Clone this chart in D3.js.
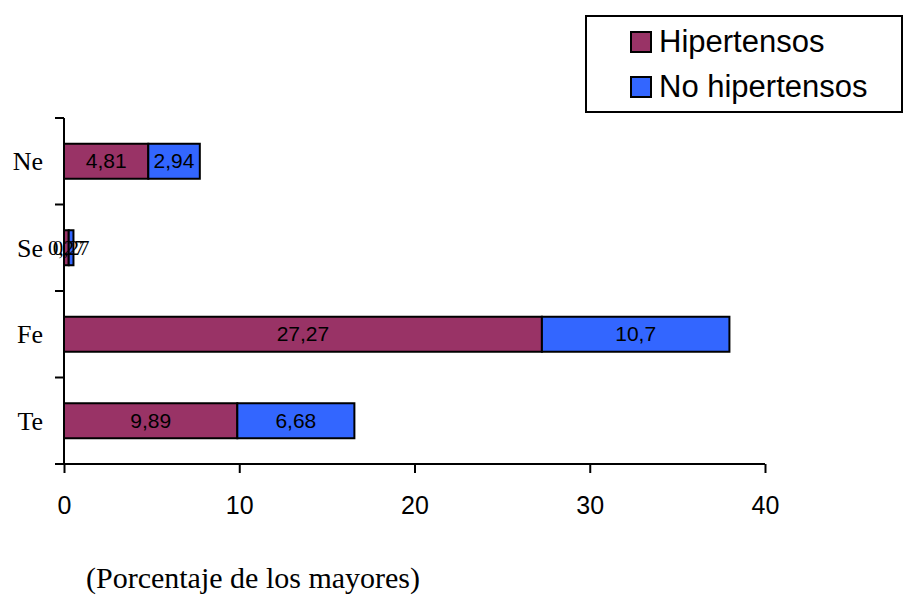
<!DOCTYPE html>
<html>
<head>
<meta charset="utf-8">
<script src="https://cdn.jsdelivr.net/npm/d3@7"></script>
<style>
  html, body { margin: 0; padding: 0; background: #fff; }
  svg { display: block; }
</style>
</head>
<body>
<svg id="chart" width="904" height="599"></svg>
<script>
// Categories in drawing order: Ne at top, Te at bottom
const categories = ["Ne", "Se", "Fe", "Te"];
const hipertensos = [4.81, 0.27, 27.27, 9.89];
const noHipertensos = [2.94, 0.27, 10.7, 6.68];
const seriesNames = ["Hipertensos", "No hipertensos"];
const seriesColors = ["#993366", "#3366FF"];
const xTicks = [0, 10, 20, 30, 40];
const xTitle = "(Porcentaje de los mayores)";

const SANS = "'Liberation Sans', Arial, sans-serif";
const SERIF = "'Liberation Serif', 'Times New Roman', serif";

const svg = d3.select("#chart");
const plotLeft = 64, plotRight = 765, plotTop = 118, plotBottom = 464;
const barH = 35;

const x = d3.scaleLinear().domain([0, 40]).range([plotLeft, plotRight]);
const yBand = d3.scaleBand().domain(categories).range([plotTop, plotBottom]);
const yMid = c => yBand(c) + yBand.bandwidth() / 2;

// stacked segments
const rows = categories.map((c, i) => ({ cat: c, vals: [hipertensos[i], noHipertensos[i]] }));
rows.forEach(r => {
  let acc = 0;
  r.vals.forEach((v, s) => {
    const x0 = acc, x1 = acc + v;
    acc = x1;
    svg.append("rect")
      .attr("x", x(x0)).attr("y", yMid(r.cat) - barH / 2)
      .attr("width", x(x1) - x(x0)).attr("height", barH)
      .attr("fill", seriesColors[s])
      .attr("stroke", "#000").attr("stroke-width", 2);
  });
});

// y axis line, ticks at band edges, category labels
svg.append("line").attr("x1", plotLeft).attr("x2", plotLeft).attr("y1", plotTop).attr("y2", plotBottom)
  .attr("stroke", "#000").attr("stroke-width", 2);
categories.map(c => yBand(c)).concat([plotBottom]).forEach(p => {
  svg.append("line").attr("x1", plotLeft - 9).attr("x2", plotLeft).attr("y1", p).attr("y2", p)
    .attr("stroke", "#000").attr("stroke-width", 2);
});
categories.forEach(c => {
  svg.append("text")
    .attr("x", 43).attr("y", yMid(c) + 9)
    .attr("text-anchor", "end")
    .attr("font-family", SERIF)
    .attr("font-size", 26).text(c);
});

// value labels centred in each segment
rows.forEach(r => {
  let acc = 0;
  const tiny = r.vals.every(v => v < 1);
  r.vals.forEach(v => {
    const mid = acc + v / 2;
    acc += v;
    svg.append("text")
      .attr("x", x(mid)).attr("y", yMid(r.cat) + 7)
      .attr("text-anchor", "middle")
      .attr("font-family", tiny ? SERIF : SANS)
      .attr("font-size", 21).attr("fill", "#000")
      .text(String(v).replace(".", ","));
  });
});

// x axis
const xAxis = d3.axisBottom(x).tickValues(xTicks).tickSize(9).tickPadding(23).tickFormat(d3.format("d"));
const gx = svg.append("g").attr("transform", `translate(0,${plotBottom})`).call(xAxis);
gx.select(".domain").attr("stroke", "#000").attr("stroke-width", 2).attr("d", `M${plotLeft},0H${plotRight}`);
gx.selectAll(".tick line").attr("stroke", "#000").attr("stroke-width", 2);
gx.selectAll(".tick text")
  .attr("font-family", SANS)
  .attr("font-size", 25).attr("fill", "#000");

svg.append("text")
  .attr("x", 253).attr("y", 588)
  .attr("text-anchor", "middle")
  .attr("font-family", SERIF)
  .attr("font-size", 30).text(xTitle);

// legend
const lg = svg.append("g");
lg.append("rect").attr("x", 586).attr("y", 16).attr("width", 316).attr("height", 96)
  .attr("fill", "#fff").attr("stroke", "#000").attr("stroke-width", 2);
seriesNames.forEach((n, i) => {
  const yy = 32 + i * 45;
  lg.append("rect").attr("x", 631).attr("y", yy).attr("width", 20).attr("height", 20)
    .attr("fill", seriesColors[i]).attr("stroke", "#000").attr("stroke-width", 2);
  lg.append("text").attr("x", 659).attr("y", yy + 20)
    .attr("font-family", SANS)
    .attr("font-size", 31).text(n);
});
</script>
</body>
</html>
